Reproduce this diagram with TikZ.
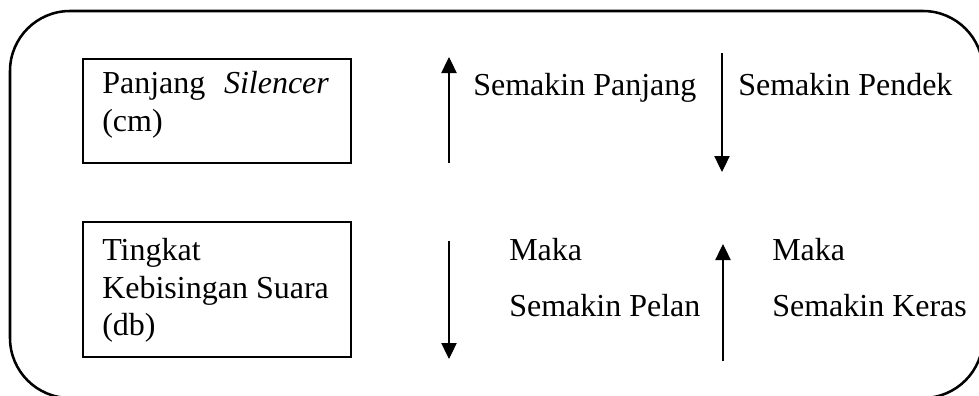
\documentclass[tikz,border=0pt]{standalone}
\usepackage{fontspec}
\setmainfont{Liberation Serif}
\usetikzlibrary{arrows.meta}
\begin{document}
\begin{tikzpicture}[x=0.75pt,y=-0.75pt,
  lbl/.style={anchor=base west, inner sep=0pt, font=\fontsize{24}{28}\selectfont},
  box/.style={draw, line width=1.2pt, anchor=north west, inner sep=0pt, minimum width=201pt},
  arr/.style={line width=0.8pt, -{Triangle[width=11.5pt,length=12pt]}},
  frame/.style={draw, line width=1.9pt, rounded corners=45pt}]
\useasboundingbox (0,0) rectangle (979,396);
% outer frame
\draw[frame] (10,11) rectangle (983,398);
% boxes
\node[box, minimum height=78pt] (b1) at (82,58) {};
\node[box, minimum height=101.25pt] (b2) at (82,221) {};
% box texts
\node[lbl] (t1a) at (102,93) {Panjang\hspace{14pt}\textit{Silencer}};
\node[lbl] (t1b) at (102,131) {(cm)};
\node[lbl] (t2a) at (102,260) {Tingkat};
\node[lbl] (t2b) at (102,298) {Kebisingan Suara};
\node[lbl] (t2c) at (102,335) {(db)};
% right texts
\node[lbl] (s1) at (473,95) {Semakin Panjang};
\node[lbl] (s2) at (738,95) {Semakin Pendek};
\node[lbl] (m1) at (509,260) {Maka};
\node[lbl] (p1) at (509,316) {Semakin Pelan};
\node[lbl] (m2) at (772,260) {Maka};
\node[lbl] (k1) at (772,316) {Semakin Keras};
% arrow endpoints
\coordinate (a1s) at (449,163);
\coordinate (a1e) at (449,57);
\coordinate (a2s) at (722,53);
\coordinate (a2e) at (722,172);
\coordinate (a3s) at (449,241);
\coordinate (a3e) at (449,359);
\coordinate (a4s) at (723,361);
\coordinate (a4e) at (723,244);
\draw[arr] (a1s) -- (a1e);
\draw[arr] (a2s) -- (a2e);
\draw[arr] (a3s) -- (a3e);
\draw[arr] (a4s) -- (a4e);
\end{tikzpicture}
\end{document}
